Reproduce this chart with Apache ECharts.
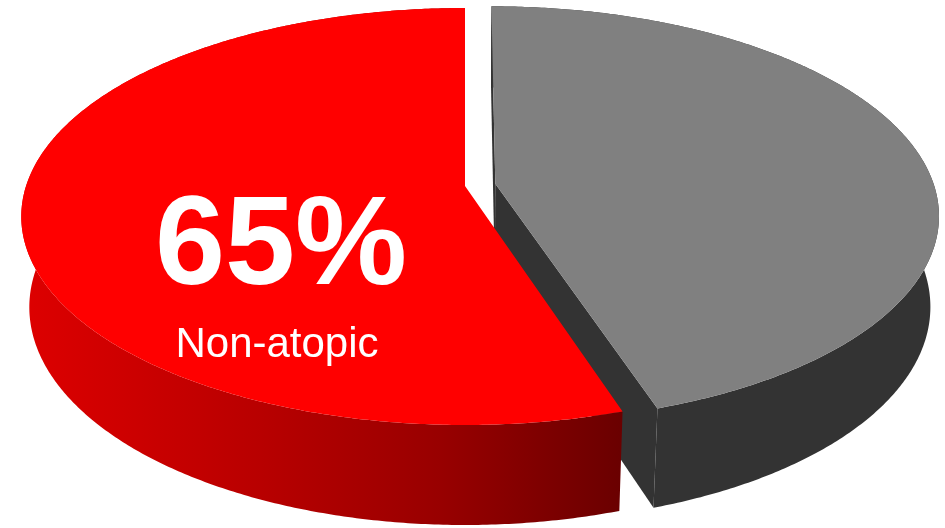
<!DOCTYPE html>
<html>
<head>
<meta charset="utf-8">
<script src="https://cdn.jsdelivr.net/npm/echarts@6/dist/echarts.min.js"></script>
<style>
html,body{margin:0;padding:0;background:#ffffff;}
#chart{width:945px;height:528px;}
</style>
</head>
<body>
<div id="chart"></div>
<script>
// ---- data (clockwise from 12 o'clock) ----
const categories = ['Atopic', 'Non-atopic'];
const values = [45, 55];
const valueLabels = ['', '65%'];
const nameLabels = ['', 'Non-atopic'];

// ---- styles ----
const topColors = ['#808080', '#ff0000'];
const explode = [0.07, 0];

// ---- 3D projection parameters (layout) ----
const CX = 465, CY = 186, F = 2657, DIST = 6.053;
const SA = 0.4648, CA = 0.8854, HGT = 0.2355;

function proj(x, y, z) {
  const d = z * CA - y * SA;
  const v = z * SA + y * CA;
  const k = F / (DIST + d);
  return [CX + x * k, CY - v * k];
}

const total = values.reduce((a, b) => a + b, 0);
const starts = [];
values.reduce((acc, v, i) => { starts[i] = acc; return acc + v; }, 0);
const seriesData = values.map((v, i) => ({ name: categories[i], value: [v, starts[i], i] }));

function wallFill(idx) {
  if (idx === 0) return '#333333';
  return new echarts.graphic.LinearGradient(20, 0, 622, 0, [
    { offset: 0, color: '#de0000' },
    { offset: 0.4, color: '#b80000' },
    { offset: 0.7, color: '#980000' },
    { offset: 1, color: '#6a0000' }
  ], true);
}
function faceFill(idx) {
  return idx === 0 ? '#333333' : '#7a0000';
}

function renderItem(params, api) {
  const idx = api.value(2);
  const val = api.value(0);
  const st = api.value(1);
  const a0 = st / total * Math.PI * 2;
  const a1 = (st + val) / total * Math.PI * 2;
  const mid = (a0 + a1) / 2;
  const ex = explode[idx];
  const ox = ex * Math.sin(mid), oz = ex * Math.cos(mid);
  const rim = (t, y) => proj(ox + Math.sin(t), y, oz + Math.cos(t));
  const steps = Math.max(2, Math.ceil((a1 - a0) / (Math.PI / 360)));
  const topRim = [], botRim = [];
  for (let s = 0; s <= steps; s++) {
    const t = a0 + (a1 - a0) * s / steps;
    topRim.push(rim(t, 0));
    botRim.push(rim(t, -HGT));
  }
  const apexTop = proj(ox, 0, oz);
  const apexBot = proj(ox, -HGT, oz);
  const base = idx * 10;
  const children = [];
  // outer wall
  children.push({
    type: 'polygon', z2: base + 1,
    shape: { points: topRim.concat(botRim.slice().reverse()) },
    style: { fill: wallFill(idx), stroke: null }
  });
  // radial faces with back-face culling
  const cam = [0, DIST * SA, -DIST * CA];
  const faces = [
    { t: a0, n: [-Math.cos(a0), Math.sin(a0)] },
    { t: a1, n: [Math.cos(a1), -Math.sin(a1)] }
  ];
  faces.forEach(fc => {
    const dot = fc.n[0] * (cam[0] - ox) + fc.n[1] * (cam[2] - oz);
    if (dot > 1e-6) {
      children.push({
        type: 'polygon', z2: base + 2,
        shape: { points: [apexTop, rim(fc.t, 0), rim(fc.t, -HGT), apexBot] },
        style: { fill: faceFill(idx), stroke: null }
      });
    }
  });
  // top face
  children.push({
    type: 'polygon', z2: base + 3,
    shape: { points: [apexTop].concat(topRim) },
    style: { fill: topColors[idx], stroke: null }
  });
  if (valueLabels[idx]) {
    children.push({
      type: 'text', z2: 100,
      style: {
        text: valueLabels[idx], x: 281, y: 249,
        align: 'center', verticalAlign: 'middle',
        fill: '#ffffff', font: 'bold 126px "Liberation Sans", Arial, sans-serif'
      }
    });
  }
  if (nameLabels[idx]) {
    children.push({
      type: 'text', z2: 100,
      style: {
        text: nameLabels[idx], x: 277, y: 345,
        align: 'center', verticalAlign: 'middle',
        fill: '#ffffff', font: '42px "Liberation Sans", Arial, sans-serif'
      }
    });
  }
  return { type: 'group', children: children };
}

const chart = echarts.init(document.getElementById('chart'), null, { renderer: 'canvas' });
chart.setOption({
  animation: false,
  backgroundColor: '#ffffff',
  series: [{
    type: 'custom',
    coordinateSystem: 'none',
    renderItem: renderItem,
    data: seriesData
  }]
});
</script>
</body>
</html>
